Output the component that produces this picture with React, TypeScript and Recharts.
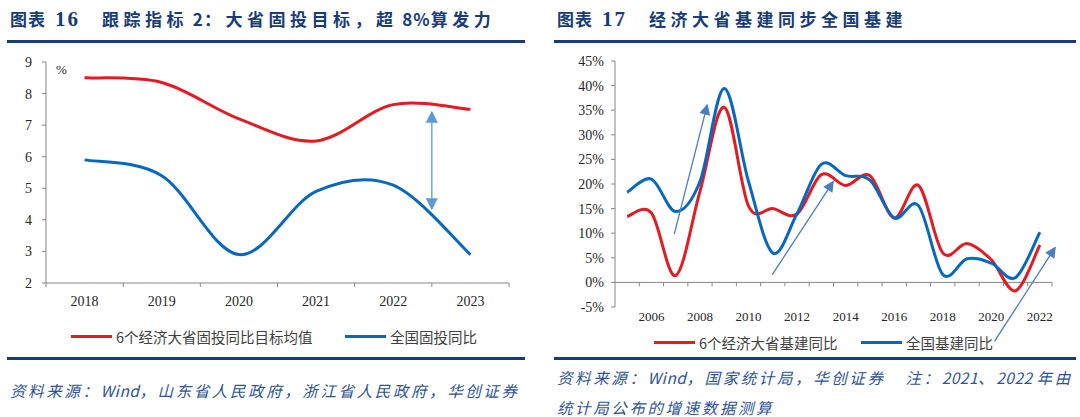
import React from 'react';
import { LineChart, Line, XAxis, YAxis, ReferenceLine } from 'recharts';

// ── data ────────────────────────────────────────────────────────────────────

const fixYears = [2018, 2019, 2020, 2021, 2022, 2023];
const fixTarget = [8.5, 8.35, 7.2, 6.5, 7.65, 7.5]; // 6个经济大省固投同比目标均值
const fixNational = [5.9, 5.4, 2.9, 4.9, 5.1, 2.9]; // 全国固投同比
const fixYTicks = [2, 3, 4, 5, 6, 7, 8, 9];

const infraYears = [
  2005, 2006, 2007, 2008, 2009, 2010, 2011, 2012, 2013,
  2014, 2015, 2016, 2017, 2018, 2019, 2020, 2021, 2022,
];
const infraProvinces = [
  13.4, 14.1, 1.4, 18.5, 35.6, 15.5, 15.0, 13.9, 21.9,
  19.7, 21.7, 13.1, 19.7, 6.0, 7.9, 4.6, -1.7, 7.6,
];
const infraNational = [
  18.3, 21.0, 14.4, 20.5, 39.4, 20.5, 6.0, 14.0, 24.0,
  21.7, 20.8, 13.1, 15.6, 1.6, 4.8, 3.9, 1.0, 10.2,
];
const infraXTicks = [2006, 2008, 2010, 2012, 2014, 2016, 2018, 2020, 2022];
const infraYTicks = [-5, 0, 5, 10, 15, 20, 25, 30, 35, 40, 45];

// annotation arrows on 图表17, in (year, %) units
const infraArrows = [
  { from: { x: 2006.94, y: 9.8 }, to: { x: 2008.3, y: 36.1 } },
  { from: { x: 2010.98, y: 1.6 }, to: { x: 2013.49, y: 20.5 } },
  { from: { x: 2020.13, y: -12.0 }, to: { x: 2022.63, y: 7.1 } },
];
// gap arrow on 图表16
const gapArrow = { x: 2022.5, top: 7.42, bottom: 4.34 };

const fixData = fixYears.map((x, i) => ({ x, target: fixTarget[i], national: fixNational[i] }));
const infraData = infraYears.map((x, i) => ({ x, prov: infraProvinces[i], national: infraNational[i] }));
const fixBounds = [fixYears[0] - 0.5, ...fixYears.map((y) => y + 0.5)];
const infraBounds = infraYears.map((y) => y + 0.5);

// ── style ───────────────────────────────────────────────────────────────────

const RED = '#E31B23';
const BLUE = '#0868C0';
const AXIS = '#868686';
const NAVY = '#173C78';
const SRC = '#2E5496';
const SERIF = '"Liberation Serif", "Times New Roman", serif';
const CJK = '"Noto Sans CJK SC", "Noto Sans", sans-serif';

// Excel-like smoothed line (uniform Catmull-Rom through the points)
function smoothCurve(context: any) {
  let xs: number[] = [];
  let ys: number[] = [];
  return {
    areaStart() {},
    areaEnd() {},
    lineStart() {
      xs = [];
      ys = [];
    },
    lineEnd() {
      const n = xs.length;
      if (!n) return;
      context.moveTo(xs[0], ys[0]);
      for (let i = 0; i < n - 1; i++) {
        const a = Math.max(i - 1, 0);
        const d = Math.min(i + 2, n - 1);
        context.bezierCurveTo(
          xs[i] + (xs[i + 1] - xs[a]) / 6,
          ys[i] + (ys[i + 1] - ys[a]) / 6,
          xs[i + 1] - (xs[d] - xs[i]) / 6,
          ys[i + 1] - (ys[d] - ys[i]) / 6,
          xs[i + 1],
          ys[i + 1],
        );
      }
    },
    point(x: number, y: number) {
      xs.push(+x);
      ys.push(+y);
    },
  };
}

const arrowShape = (markerStart?: string, markerEnd?: string, color = '#4A7EC0', w = 1.3) =>
  (p: any) => (
    <line
      x1={p.x1}
      y1={p.y1}
      x2={p.x2}
      y2={p.y2}
      stroke={color}
      strokeWidth={w}
      markerStart={markerStart}
      markerEnd={markerEnd}
    />
  );

// split text into CJK and latin runs so latin keeps normal spacing
function Spaced({ text, cjk, latin }: { text: string; cjk: number; latin: number }) {
  const runs = text.match(/[\x20-\x7e]+|[^\x20-\x7e]+/g) || [];
  return (
    <>
      {runs.map((r, i) => (
        <span key={i} style={{ letterSpacing: /[\x20-\x7e]/.test(r[0]) ? latin : cjk }}>{r}</span>
      ))}
    </>
  );
}

function Title({ left, num, text }: { left: number; num: string; text: string }) {
  return (
    <div
      style={{
        position: 'absolute', left, top: 6, whiteSpace: 'nowrap', color: NAVY,
        fontFamily: CJK, fontWeight: 700, fontSize: 17, lineHeight: '26px',
      }}
    >
      <span style={{ letterSpacing: 1 }}>图表</span>
      <span style={{ fontFamily: SERIF, fontSize: 21, letterSpacing: 2, marginLeft: 9 }}>{num}</span>
      <span style={{ marginLeft: 22 }}>
        <Spaced text={text} cjk={4.5} latin={1} />
      </span>
    </div>
  );
}

function Rule({ left, width, top }: { left: number; width: number; top: number }) {
  return <div style={{ position: 'absolute', left, top, width, height: 2.5, background: NAVY }} />;
}

function Legend({ top, items }: { top: number; items: { name: string; color: string; left: number }[] }) {
  return (
    <>
      {items.map((it) => (
        <div
          key={it.name}
          style={{
            position: 'absolute', left: it.left, top: top - 10, height: 20, display: 'flex',
            alignItems: 'center', whiteSpace: 'nowrap', fontFamily: CJK, fontSize: 14.5, color: '#404040',
          }}
        >
          <span style={{ display: 'inline-block', width: 41, height: 3, background: it.color, marginRight: 4 }} />
          {it.name}
        </div>
      ))}
    </>
  );
}

function Source({ left, top, lines }: { left: number; top: number; lines: string[] }) {
  return (
    <div
      style={{
        position: 'absolute', left, top, whiteSpace: 'pre', fontFamily: CJK, fontStyle: 'italic',
        fontSize: 15.5, color: SRC, lineHeight: '30px',
      }}
    >
      {lines.map((l) => (
        <div key={l}>
          <Spaced text={l} cjk={2.6} latin={0.5} />
        </div>
      ))}
    </div>
  );
}

// ── 图表16 ──────────────────────────────────────────────────────────────────

function FixChart() {
  return (
    <div style={{ position: 'absolute', left: 0, top: 45 }}>
      <LineChart width={540} height={270} data={fixData} margin={{ top: 17, right: 31, left: 10, bottom: 2 }}>
        <defs>
          <marker id="gapHead" viewBox="0 0 10 10" refX="9" refY="5" markerWidth="12" markerHeight="12"
            markerUnits="userSpaceOnUse" orient="auto-start-reverse">
            <path d="M0,0 L10,5 L0,10 z" fill="#5B9BD5" />
          </marker>
        </defs>
        <XAxis
          xAxisId="frame" dataKey="x" type="number" domain={[2017.5, 2023.5]} ticks={fixBounds}
          tickFormatter={() => ''} height={5} tickSize={4} stroke={AXIS} interval={0}
        />
        <XAxis
          xAxisId="label" dataKey="x" type="number" domain={[2017.5, 2023.5]} ticks={fixYears}
          axisLine={false} tickLine={false} height={25} interval={0}
          tick={{ fill: '#262626', fontSize: 14, fontFamily: SERIF }}
        />
        <YAxis
          domain={[2, 9]} ticks={fixYTicks} width={36} stroke={AXIS} tickSize={4} tickMargin={10}
          tick={{ fill: '#262626', fontSize: 14, fontFamily: SERIF }} interval={0}
        />
        <Line xAxisId="frame" dataKey="target" type={smoothCurve as any} stroke={RED} strokeWidth={3}
          dot={false} activeDot={false} isAnimationActive={false} />
        <Line xAxisId="frame" dataKey="national" type={smoothCurve as any} stroke={BLUE} strokeWidth={3}
          dot={false} activeDot={false} isAnimationActive={false} />
        <ReferenceLine
          xAxisId="frame" ifOverflow="visible"
          segment={[{ x: gapArrow.x, y: gapArrow.top }, { x: gapArrow.x, y: gapArrow.bottom }]}
          shape={arrowShape('url(#gapHead)', 'url(#gapHead)', '#5B9BD5', 1.3)}
        />
      </LineChart>
      <div style={{ position: 'absolute', left: 56, top: 17, fontFamily: SERIF, fontSize: 13, color: '#262626' }}>%</div>
    </div>
  );
}

// ── 图表17 ──────────────────────────────────────────────────────────────────

function InfraChart() {
  return (
    <div style={{ position: 'absolute', left: 540, top: 45 }}>
      <LineChart width={540} height={300} data={infraData} margin={{ top: 16, right: 28, left: 25, bottom: 0 }}>
        <defs>
          <marker id="trendHead" viewBox="0 0 10 10" refX="9" refY="5" markerWidth="13" markerHeight="11"
            markerUnits="userSpaceOnUse" orient="auto">
            <path d="M0,0 L10,5 L0,10 z" fill="#4A7EC0" />
          </marker>
        </defs>
        <XAxis
          dataKey="x" type="number" domain={[2004.5, 2022.5]} ticks={infraXTicks} interval={0}
          axisLine={false} tickLine={false} tickSize={0} tickMargin={5} height={38}
          tick={{ fill: '#262626', fontSize: 13, fontFamily: SERIF }}
        />
        <YAxis
          domain={[-5, 45]} ticks={infraYTicks} width={50} stroke={AXIS} tickSize={4} tickMargin={7}
          tickFormatter={(v) => `${v}%`} interval={0}
          tick={{ fill: '#262626', fontSize: 14, fontFamily: SERIF }}
        />
        <ReferenceLine y={0} stroke={AXIS} strokeWidth={1} />
        {infraBounds.map((b) => (
          <ReferenceLine key={b} stroke={AXIS} segment={[{ x: b, y: 0 }, { x: b, y: -0.8 }]} />
        ))}
        <Line dataKey="prov" type={smoothCurve as any} stroke={RED} strokeWidth={3}
          dot={false} activeDot={false} isAnimationActive={false} />
        <Line dataKey="national" type={smoothCurve as any} stroke={BLUE} strokeWidth={3}
          dot={false} activeDot={false} isAnimationActive={false} />
        {infraArrows.map((a, i) => (
          <ReferenceLine
            key={i} ifOverflow="visible" segment={[a.from, a.to]}
            shape={arrowShape(undefined, 'url(#trendHead)')}
          />
        ))}
      </LineChart>
    </div>
  );
}

export default function App() {
  return (
    <div style={{ position: 'absolute', left: 0, top: 0, width: 1080, height: 417, background: '#fff', overflow: 'hidden' }}>
      <Title left={10} num="16" text="跟踪指标 2：大省固投目标，超 8%算发力" />
      <Rule left={7} width={518} top={40} />
      <FixChart />
      <Legend
        top={336}
        items={[
          { name: '6个经济大省固投同比目标均值', color: RED, left: 71 },
          { name: '全国固投同比', color: BLUE, left: 345 },
        ]}
      />
      <Rule left={7} width={518} top={357} />
      <Source left={10} top={375} lines={['资料来源：Wind，山东省人民政府，浙江省人民政府，华创证券']} />

      <Title left={557} num="17" text="经济大省基建同步全国基建" />
      <Rule left={554} width={522} top={40} />
      <InfraChart />
      <Legend
        top={342}
        items={[
          { name: '6个经济大省基建同比', color: RED, left: 654 },
          { name: '全国基建同比', color: BLUE, left: 861 },
        ]}
      />
      <Rule left={554} width={522} top={357} />
      <Source
        left={557}
        top={362}
        lines={['资料来源：Wind，国家统计局，华创证券     注：2021、2022 年由', '统计局公布的增速数据测算']}
      />
    </div>
  );
}
